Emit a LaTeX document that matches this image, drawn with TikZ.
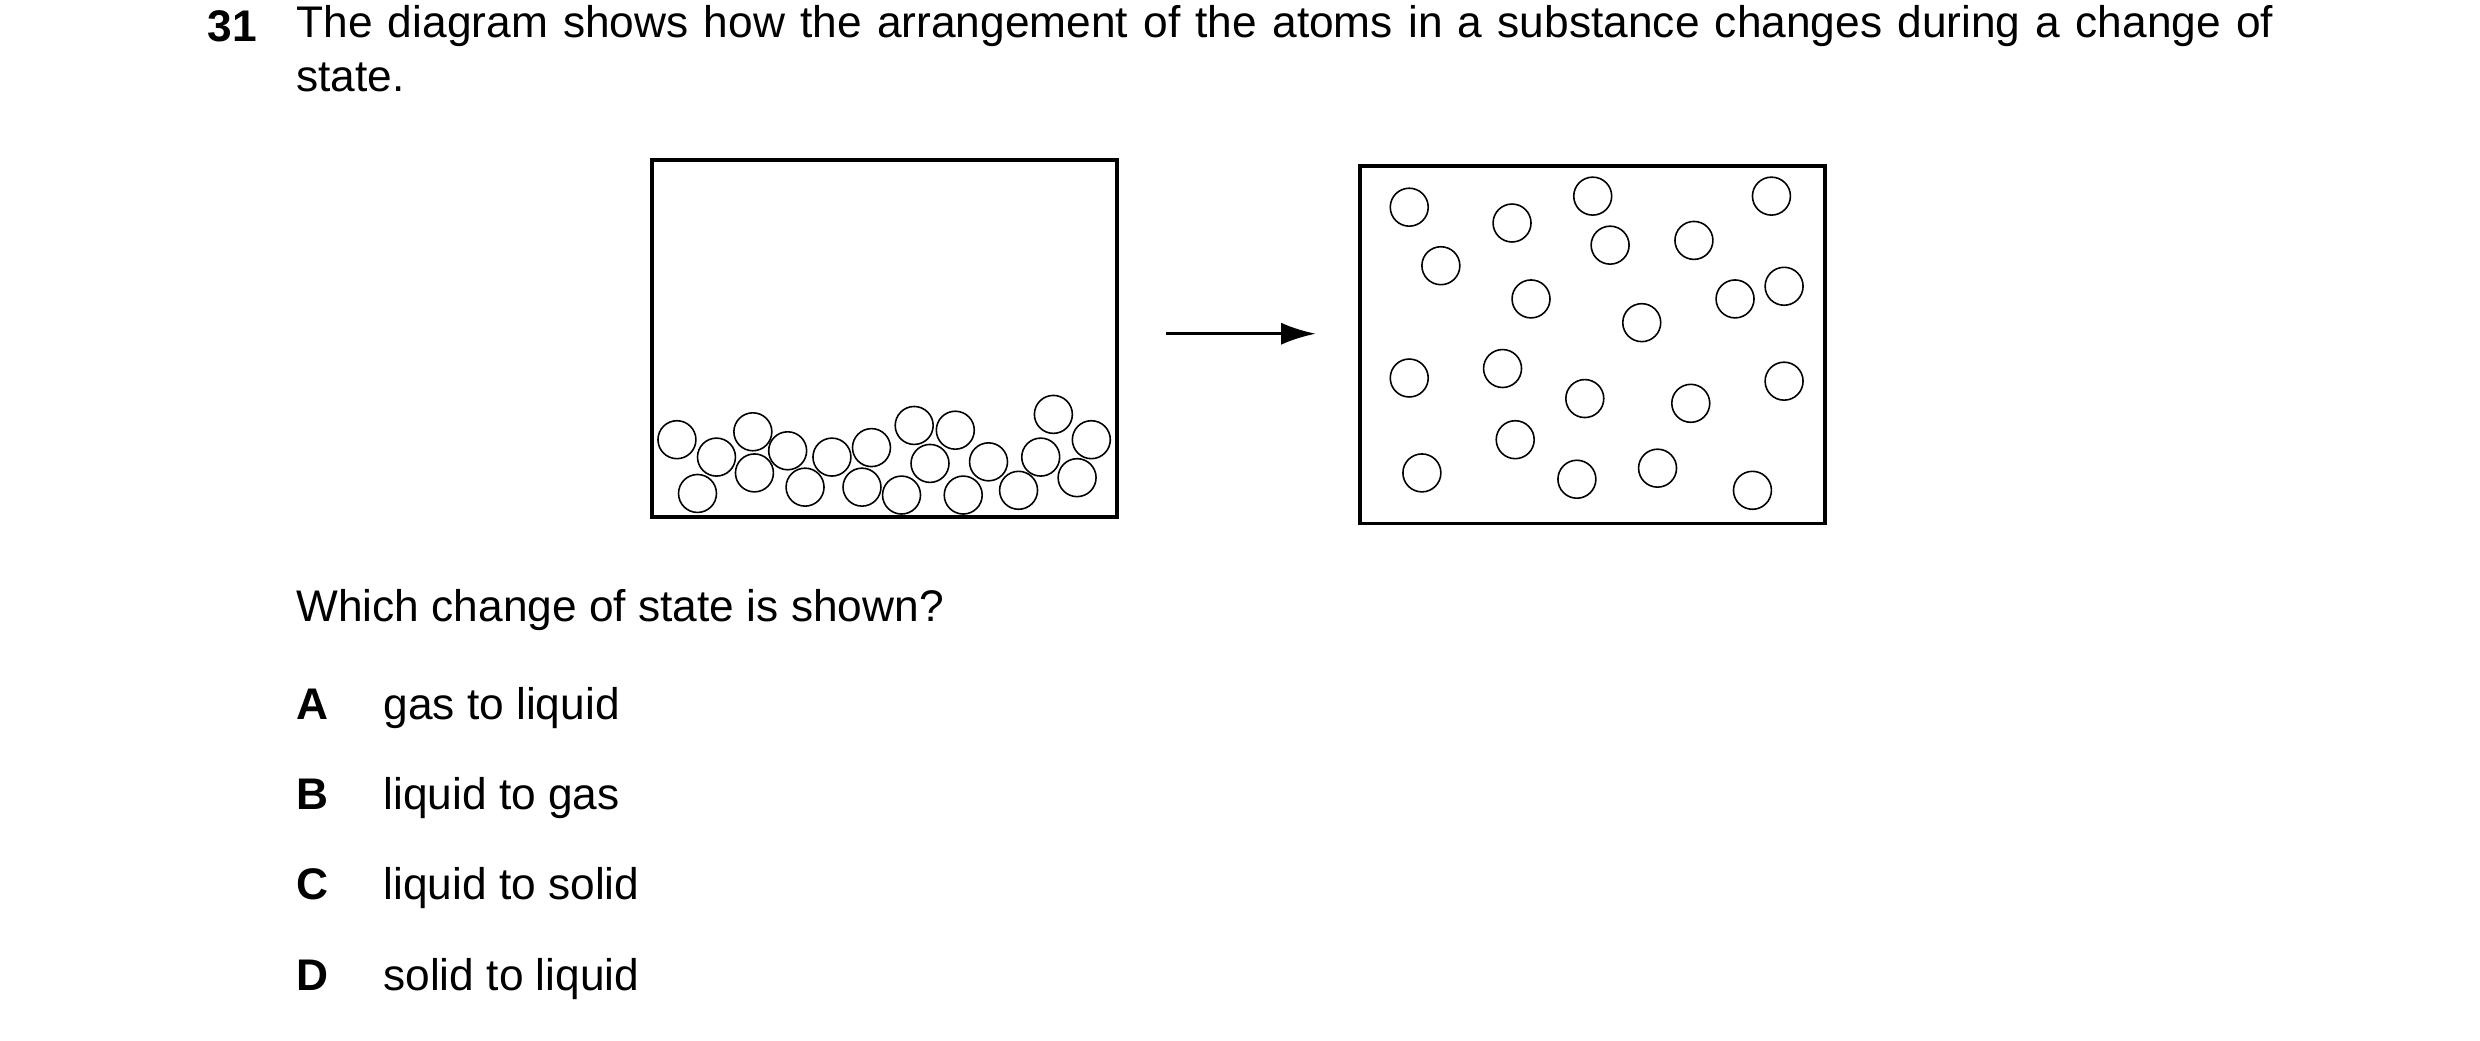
\documentclass[tikz,border=0pt]{standalone}
\usepackage{fontspec}
\setmainfont{Liberation Sans}
\usetikzlibrary{arrows.meta}
\begin{document}
\begin{tikzpicture}[x=0.5pt,y=-0.5pt]
      \useasboundingbox(0,0) rectangle (1568,658);
      \tikzset{T/.style = {anchor=base west, inner sep=0pt, font=\fontsize{14}{17}\selectfont}}
      \tikzset{B/.style = {draw, line width=1.2pt}}
      \tikzset{P/.style = {shape=circle, draw, line width=0.5pt, minimum size=12pt, inner sep=0pt}}
      % question
      \node[T,font=\fontsize{14}{17}\selectfont\bfseries](num) at (131,26) {31};
      \node[T,anchor=north west,text width=625pt,align=justify](q) at (187,3) {The diagram shows how the arrangement of the atoms in a substance changes during a change of state.};
      % boxes
      \draw[B] (412,101) rectangle (706,327);
      \draw[B] (860,105) rectangle (1154,331);
      \foreach \x/\y [count=\i] in {428/278,453/289,476/273,498/285,526/289,551/283,578/269,604/272,666/262,690/278,441/312,477/299,509/308,545/308,570/313,588/293,609/313,625/292,644/310,658/289,681/302}
        \node[P](l\i) at (\x,\y) {};
      \foreach \x/\y [count=\i] in {891/131,911/168,956/141,968/189,1007/124,1018/155,1071/152,1038/204,1097/189,1128/181,1120/124,891/239,950/233,1002/252,1069/255,1128/241,958/278,899/299,997/303,1048/296,1108/310}
        \node[P](r\i) at (\x,\y) {};
      \coordinate (a0) at (737,211);
      \coordinate (a1) at (832,211);
      \draw[line width=1pt,-{Latex[length=11pt,width=7pt]}] (a0) -- (a1);
      % options
      \node[T](w) at (187,393) {Which change of state is shown?};
      \foreach \l/\t/\y in {A/gas to liquid/455,B/liquid to gas/512,C/liquid to solid/569,D/solid to liquid/626}{
        \node[T,font=\fontsize{14}{17}\selectfont\bfseries](o\l) at (187,\y) {\l};
        \node[T](t\l) at (242,\y) {\t};
      }
    \end{tikzpicture}
\end{document}
